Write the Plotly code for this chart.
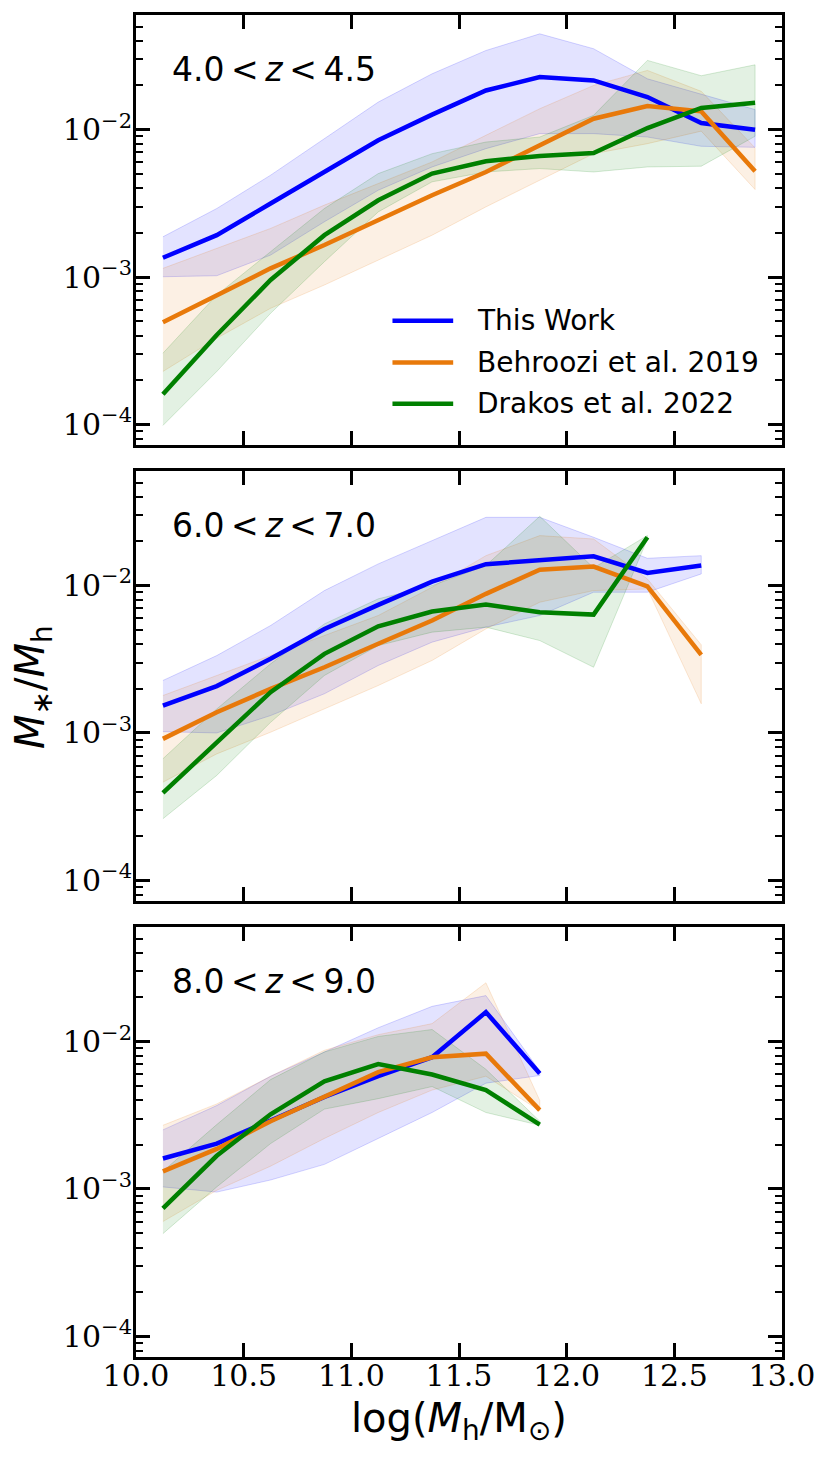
import numpy as np
import plotly.graph_objects as go

# bin centres, log(Mh/Msun)
mh_bins = [10.125, 10.375, 10.625, 10.875, 11.125, 11.375,
           11.625, 11.875, 12.125, 12.375, 12.625, 12.875]

TS = "\u2009"  # thin space, like mathtext
panel_labels = [f"4.0{TS}&lt;{TS}<i>z</i>{TS}&lt;{TS}4.5",
                f"6.0{TS}&lt;{TS}<i>z</i>{TS}&lt;{TS}7.0",
                f"8.0{TS}&lt;{TS}<i>z</i>{TS}&lt;{TS}9.0"]
series_names = ["This Work", "Behroozi et al. 2019", "Drakos et al. 2022"]

# log10(M*/Mh): median, upper and lower band edge
# --- 4.0 < z < 4.5
tw_z4_med = [-2.869, -2.716, -2.501, -2.287, -2.072, -1.898, -1.734, -1.643, -1.666, -1.779, -1.955, -2.000]
tw_z4_hi = [-2.727, -2.535, -2.309, -2.061, -1.813, -1.621, -1.463, -1.350, -1.451, -1.655, -1.760, -1.864]
tw_z4_lo = [-2.998, -2.991, -2.851, -2.625, -2.411, -2.253, -2.129, -2.027, -2.027, -2.050, -2.113, -2.120]
b19_z4_med = [-3.307, -3.122, -2.941, -2.783, -2.614, -2.445, -2.287, -2.106, -1.926, -1.840, -1.876, -2.282]
b19_z4_hi = [-2.941, -2.806, -2.670, -2.512, -2.366, -2.219, -2.038, -1.858, -1.700, -1.598, -1.740, -2.124]
b19_z4_lo = [-3.641, -3.415, -3.212, -3.054, -2.885, -2.716, -2.524, -2.343, -2.163, -2.095, -2.010, -2.406]
d22_z4_med = [-3.795, -3.393, -3.020, -2.716, -2.479, -2.298, -2.214, -2.178, -2.158, -1.989, -1.853, -1.817]
d22_z4_hi = [-3.517, -3.122, -2.828, -2.535, -2.298, -2.163, -2.084, -2.050, -1.903, -1.530, -1.634, -1.560]
d22_z4_lo = [-4.007, -3.641, -3.246, -2.896, -2.558, -2.354, -2.287, -2.264, -2.287, -2.253, -2.248, -2.045]

# --- 6.0 < z < 7.0
tw_z6_med = [-2.814, -2.682, -2.497, -2.294, -2.131, -1.973, -1.855, -1.828, -1.801, -1.914, -1.864]
tw_z6_hi = [-2.644, -2.475, -2.271, -2.034, -1.853, -1.695, -1.537, -1.537, -1.672, -1.815, -1.797]
tw_z6_lo = [-2.991, -3.000, -2.882, -2.734, -2.542, -2.384, -2.282, -2.203, -2.045, -2.045, -1.921]
b19_z6_med = [-3.040, -2.859, -2.701, -2.554, -2.395, -2.237, -2.056, -1.892, -1.871, -2.005, -2.470]
b19_z6_hi = [-2.746, -2.610, -2.475, -2.339, -2.203, -2.011, -1.797, -1.661, -1.684, -1.955, -2.402]
b19_z6_lo = [-3.334, -3.142, -2.995, -2.837, -2.678, -2.508, -2.294, -2.113, -2.034, -2.023, -2.802]
d22_z6_med = [-3.406, -3.063, -2.723, -2.463, -2.276, -2.176, -2.129, -2.181, -2.197, -1.672]
d22_z6_hi = [-3.175, -2.837, -2.531, -2.260, -2.090, -2.000, -1.864, -1.530, -1.880, -1.660]
d22_z6_lo = [-3.582, -3.288, -2.928, -2.610, -2.407, -2.316, -2.282, -2.373, -2.554, -1.684]

# --- 8.0 < z < 9.0
tw_z8_med = [-2.793, -2.692, -2.535, -2.376, -2.235, -2.106, -1.800, -2.216]
tw_z8_hi = [-2.599, -2.434, -2.235, -2.070, -1.906, -1.761, -1.688, -2.200]
tw_z8_lo = [-2.986, -3.021, -2.939, -2.833, -2.657, -2.481, -2.282, -2.230]
b19_z8_med = [-2.880, -2.728, -2.540, -2.376, -2.207, -2.106, -2.082, -2.465]
b19_z8_hi = [-2.568, -2.423, -2.235, -2.059, -1.953, -1.878, -1.601, -2.399]
b19_z8_lo = [-3.221, -3.009, -2.845, -2.657, -2.481, -2.329, -2.235, -2.469]
d22_z8_med = [-3.131, -2.775, -2.493, -2.270, -2.153, -2.223, -2.329, -2.563]
d22_z8_hi = [-2.880, -2.563, -2.258, -2.070, -1.965, -1.918, -2.188, -2.540]
d22_z8_lo = [-3.303, -2.986, -2.692, -2.458, -2.387, -2.305, -2.481, -2.568]

panels = [
    [(tw_z4_med, tw_z4_lo, tw_z4_hi), (b19_z4_med, b19_z4_lo, b19_z4_hi), (d22_z4_med, d22_z4_lo, d22_z4_hi)],
    [(tw_z6_med, tw_z6_lo, tw_z6_hi), (b19_z6_med, b19_z6_lo, b19_z6_hi), (d22_z6_med, d22_z6_lo, d22_z6_hi)],
    [(tw_z8_med, tw_z8_lo, tw_z8_hi), (b19_z8_med, b19_z8_lo, b19_z8_hi), (d22_z8_med, d22_z8_lo, d22_z8_hi)],
]

COLORS = ["#0000ff", "#e8790a", "#008000"]
RGB = ["0,0,255", "232,121,10", "0,128,0"]

# page body has an 8px margin: figure is 16px smaller than the window
PAD = 8
W, H = 830 - 2 * PAD, 1457 - 2 * PAD
ML, MT = 136 - PAD, 12 - PAD
MR = W - (782 - PAD)
MB = H - (1357 - PAD)
PW = W - ML - MR
PH = H - MT - MB


def sx(px):
    """screen pixel x -> paper x"""
    return (px - PAD - ML) / PW


def sy(py):
    """screen pixel y -> paper y"""
    return 1 - (py - PAD - MT) / PH


# panel screen extents (top, bottom)
panel_px = [(12.7, 443.7), (469.3, 900.3), (926, 1357)]
domains = [[max(0, sy(b)), min(1, sy(t))] for t, b in panel_px]

SERIF = "DejaVu Serif"
SANS = "DejaVu Sans"

fig = go.Figure()

for p, series in enumerate(panels):
    xa = "x" if p == 0 else f"x{p + 1}"
    ya = "y" if p == 0 else f"y{p + 1}"
    # shaded bands first
    for s, (med, lo, hi) in enumerate(series):
        xs = mh_bins[:len(med)]
        poly_x = xs + xs[::-1]
        poly_y = list(np.power(10.0, hi)) + list(np.power(10.0, lo[::-1]))
        fig.add_trace(go.Scatter(
            x=poly_x, y=poly_y, xaxis=xa, yaxis=ya, mode="lines",
            fill="toself", fillcolor=f"rgba({RGB[s]},0.11)",
            line=dict(color=f"rgba({RGB[s]},0.16)", width=1),
            hoverinfo="skip", showlegend=False,
        ))
    for s, (med, lo, hi) in enumerate(series):
        xs = mh_bins[:len(med)]
        fig.add_trace(go.Scatter(
            x=xs, y=np.power(10.0, med), xaxis=xa, yaxis=ya, mode="lines",
            line=dict(color=COLORS[s], width=4.5), name=series_names[s],
            showlegend=False,
        ))

layout = dict(
    width=W, height=H,
    margin=dict(l=ML, r=MR, t=MT, b=MB),
    paper_bgcolor="white", plot_bgcolor="white",
    showlegend=False,
)

for p in range(3):
    xk = "xaxis" if p == 0 else f"xaxis{p + 1}"
    yk = "yaxis" if p == 0 else f"yaxis{p + 1}"
    ya = "y" if p == 0 else f"y{p + 1}"
    xa = "x" if p == 0 else f"x{p + 1}"
    layout[xk] = dict(
        domain=[0, 1], anchor=ya, range=[10, 13],
        tickvals=[10.0, 10.5, 11.0, 11.5, 12.0, 12.5, 13.0],
        ticktext=["10.0", "10.5", "11.0", "11.5", "12.0", "12.5", "13.0"],
        showticklabels=(p == 2), ticklabelstandoff=-10,
        ticks="inside", ticklen=14, tickwidth=3, tickcolor="black",
        showline=True, linewidth=3, linecolor="black", mirror="ticks",
        showgrid=False, zeroline=False,
        tickfont=dict(family=SERIF, size=30, color="black"),
    )
    layout[yk] = dict(
        domain=domains[p], anchor=xa, type="log", range=[-4.14, -1.22],
        tickvals=[1e-4, 1e-3, 1e-2],
        ticktext=["10<sup>\u22124</sup>", "10<sup>\u22123</sup>", "10<sup>\u22122</sup>"],
        ticklabelstandoff=-5,
        ticks="inside", ticklen=14, tickwidth=3, tickcolor="black",
        minor=dict(ticks="inside", ticklen=7, tickwidth=1.5, tickcolor="black",
                   dtick="D1", showgrid=False),
        showline=True, linewidth=3, linecolor="black", mirror="ticks",
        showgrid=False, zeroline=False,
        tickfont=dict(family=SERIF, size=30, color="black"),
    )

fig.update_layout(**layout)

# redshift labels
for p in range(3):
    xa = "x" if p == 0 else f"x{p + 1}"
    ya = "y" if p == 0 else f"y{p + 1}"
    fig.add_annotation(
        text=panel_labels[p], xref=f"{xa} domain", yref=f"{ya} domain",
        x=0.052, y=0.873, xanchor="left", yanchor="middle", showarrow=False,
        font=dict(family=SANS, size=33, color="black"),
    )

# legend drawn inside the top panel
leg_y = [0.2886, 0.1919, 0.096]
for s, name in enumerate(series_names):
    fig.add_shape(
        type="line", xref="x domain", yref="y domain",
        x0=0.397, x1=0.491, y0=leg_y[s], y1=leg_y[s],
        line=dict(color=COLORS[s], width=4.5),
    )
    fig.add_annotation(
        text=name, xref="x domain", yref="y domain",
        x=0.525, y=leg_y[s], xanchor="left", yanchor="middle", showarrow=False,
        font=dict(family=SANS, size=28, color="black"),
    )

# axis titles
fig.add_annotation(
    text="<i>M</i><sub>\u2217</sub>/<i>M</i><sub>h</sub>", xref="paper", yref="paper",
    x=sx(33), y=sy(686), textangle=-90,
    xanchor="center", yanchor="middle", showarrow=False,
    font=dict(family=SANS, size=40, color="black"),
)
fig.add_annotation(
    text="log(<i>M</i><sub>h</sub>/M<sub>\u2299</sub>)", xref="paper", yref="paper",
    x=0.5, y=sy(1421),
    xanchor="center", yanchor="middle", showarrow=False,
    font=dict(family=SANS, size=40, color="black"),
)

fig.write_html("out.html")
